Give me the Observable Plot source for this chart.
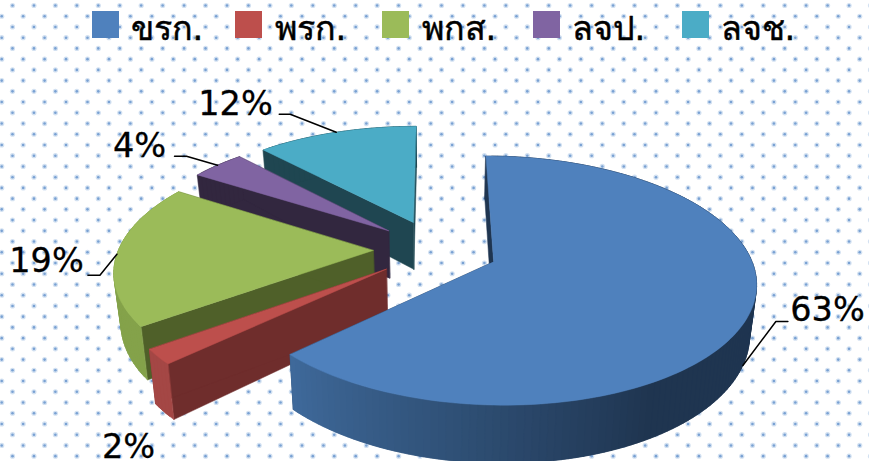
<!DOCTYPE html>
<html><head><meta charset="utf-8">
<script src="https://cdn.jsdelivr.net/npm/d3@7"></script>
<script src="https://cdn.jsdelivr.net/npm/@observablehq/plot@0.6"></script>
<style>html,body{margin:0;padding:0;background:#fff}svg{display:block}</style>
</head><body><div id="chart"></div>
<script>
// data
const categories = ["ขรก.", "พรก.", "พกส.", "ลจป.", "ลจช."];
const values = [63, 2, 19, 4, 12];
const topColors = ["#4f81bd", "#bd4f4c", "#9bbb59", "#8064a2", "#4bacc6"];
const sideColors = ["#1f3550", "#6f2d2c", "#4f6029", "#32273f", "#1f4651"];
const rimColors = ["#1f3550", "#a44745", "#84a24a", "#32273f", "#1f4651"];

// layout of legend and labels
const W = 869, H = 461;
const swatchX = [92, 235, 382, 533, 682];
const legendTextX = [130, 274, 421, 571, 720];
const labelPos = [[827, 310], [128, 447], [46, 261], [139, 146], [235, 104]];
// leader: [kneeDx, kneeDy, endDx, endDy] relative to the anchor on the slice, null = none
const leaders = [[33, -44, 45, -44], null, [-17, 21, -29, 21], [-31, -9, -43, -9], [-46, -18, -57, -18]];

// 3D view of the pie
const view = {cx: 435, cy: 249, a: 254.5, b: 118, k: 0.15, ex: 0.245, ey: 0.255, h: 48.5, q: 0.022};
function project(X, Y, low) {
  const s = 1 / (1 - view.k * Y);
  const x = view.cx + view.a * X * s, y = view.cy + view.b * Y * s;
  return low ? [view.cx + (x - view.cx) * (1 - view.q), y + view.h * s] : [x, y];
}
const total = d3.sum(values);
let acc = 0;
const slices = values.map((v, i) => {
  const a0 = acc / total * 2 * Math.PI; acc += v;
  const a1 = acc / total * 2 * Math.PI, mid = (a0 + a1) / 2;
  return {i, a0, a1, mid, ox: view.ex * Math.sin(mid), oy: -view.ey * Math.cos(mid)};
});
const rim = (s, t, low) => project(s.ox + Math.sin(t), s.oy - Math.cos(t), low);
const apex = (s, low) => project(s.ox, s.oy, low);

const polys = [];
let pid = 0;
function poly(pts, c) { const id = pid++; pts.forEach(([x, y]) => polys.push({id, x, y, c})); }
const blueRamp = d3.scaleLinear().domain([150, 227]).range(["#1f3550", "#3f6a9b"]).clamp(true);
// paint order: back slices first, blue last
[4, 3, 2, 1, 0].forEach(i => {
  const s = slices[i];
  poly([apex(s), rim(s, s.a0), rim(s, s.a0, true), apex(s, true)], sideColors[i]);
  poly([apex(s), rim(s, s.a1), rim(s, s.a1, true), apex(s, true)], sideColors[i]);
  const n = Math.max(2, Math.ceil((s.a1 - s.a0) / (Math.PI / 120)));
  const step = (s.a1 - s.a0) / n;
  for (let j = 0; j < n; j++) {
    // each strip runs on under the next one, so no seam shows between them
    const t0 = s.a0 + step * j, t1 = Math.min(s.a1, t0 + step * 2);
    const deg = (t0 + step / 2) * 180 / Math.PI;
    poly([rim(s, t0), rim(s, t1), rim(s, t1, true), rim(s, t0, true)], i === 0 ? blueRamp(deg) : rimColors[i]);
  }
  const top = [apex(s)];
  for (let j = 0; j <= n; j++) top.push(rim(s, s.a0 + step * j));
  poly(top, topColors[i]);
});

// dotted background
const dots = [];
d3.range(0, 44).forEach(r => d3.range(-1, 42).forEach(c => {
  dots.push({x: (r % 2 ? 1.2 : 12) + 21.45 * c, y: 5 + 10.73 * r});
}));

// leaders & labels
const leaderRows = [];
leaders.forEach((l, i) => {
  if (!l) return;
  const s = slices[i];
  const p = rim(s, s.mid, i === 0);
  [[0, 0], [l[0], l[1]], [l[2], l[3]]].forEach(([dx, dy]) => leaderRows.push({i, x: p[0] + dx, y: p[1] + dy}));
});
const labels = values.map((v, i) => ({t: v + "%", x: labelPos[i][0], y: labelPos[i][1]}));
const legend = categories.map((t, i) => ({t, x0: swatchX[i], x1: swatchX[i] + 27, y0: 11, y1: 38, tx: legendTextX[i], c: topColors[i]}));

const font = "'DejaVu Sans', 'Noto Sans', sans-serif";
const plot = Plot.plot({
  width: W, height: H, margin: 0,
  x: {domain: [0, W], range: [0, W], axis: null},
  y: {domain: [0, H], range: [0, H], axis: null},
  color: {type: "identity"},
  style: {background: "#fff", fontFamily: font},
  marks: [
    Plot.dot(dots, {x: "x", y: "y", r: 2.6, fill: "#d3e1f1"}),
    Plot.dot(dots, {x: "x", y: "y", r: 1.3, fill: "#79a1d3"}),
    Plot.line(polys, {x: "x", y: "y", z: "id", fill: "c", stroke: "c", strokeWidth: 0.5, curve: "linear-closed"}),
    Plot.line(leaderRows, {x: "x", y: "y", z: "i", stroke: "#000", strokeWidth: 1.5}),
    Plot.text(labels, {x: "x", y: "y", text: "t", fontSize: 33.5, fill: "#000", stroke: "#000", strokeWidth: 0.3, fontFamily: font}),
    Plot.rect(legend, {x1: "x0", x2: "x1", y1: "y0", y2: "y1", fill: "c"}),
    Plot.text(legend, {x: "tx", y: 29, text: "t", textAnchor: "start", fontSize: 34, fill: "#000", stroke: "#000", strokeWidth: 0.5, fontFamily: font})
  ]
});
document.getElementById("chart").append(plot);
</script></body></html>
